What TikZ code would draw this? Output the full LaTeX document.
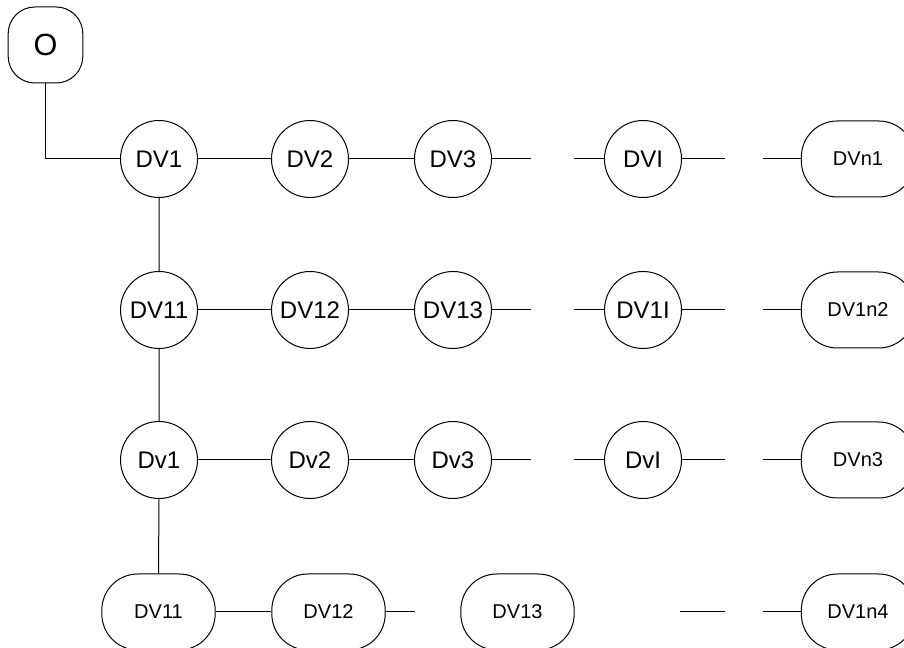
\documentclass[tikz,border=0pt]{standalone}
\usepackage{fontspec}
\setmainfont{Liberation Sans}

\tikzset{
  dvnode/.style={draw,circle,minimum size=57.75pt,inner sep=0pt,
    font=\fontsize{18}{20}\selectfont},
  dvpill/.style={draw,rounded corners=27pt,minimum width=85pt,
    minimum height=57pt,inner sep=0pt,font=\fontsize{15}{17}\selectfont},
  obox/.style={draw,rounded corners=20pt,minimum width=56pt,
    minimum height=57pt,inner sep=0pt,font=\fontsize{23}{25}\selectfont}
}

\begin{document}
\begin{tikzpicture}[x=0.75pt,y=-0.75pt,line width=0.75pt]
\clip (0,0) rectangle (904,648);

\node[obox] (o) at (45.5,45) {O};

% three rows of circles, each ending in a pill
\foreach \r/\y/\ta/\tb/\tc/\td/\te in {
    1/159/DV1/DV2/DV3/DVI/DVn1,
    2/310/DV11/DV12/DV13/DV1I/DV1n2,
    3/460/Dv1/Dv2/Dv3/DvI/DVn3}{
  \node[dvnode] (r\r a) at (159,\y) {\ta};
  \node[dvnode] (r\r b) at (310,\y) {\tb};
  \node[dvnode] (r\r c) at (453,\y) {\tc};
  \node[dvnode] (r\r d) at (643,\y) {\td};
  \node[dvpill] (r\r e) at (858,\y) {\te};
  \coordinate (r\r s1) at (531,\y);
  \coordinate (r\r s2) at (574,\y);
  \coordinate (r\r s3) at (725,\y);
  \coordinate (r\r s4) at (763,\y);
  \draw (r\r a) -- (r\r b) -- (r\r c) -- (r\r s1);
  \draw (r\r s2) -- (r\r d) -- (r\r s3);
  \draw (r\r s4) -- (r\r e);
}

% bottom row
\node[dvpill] (d1) at (158.5,612) {DV11};
\node[dvpill] (d2) at (328.5,612) {DV12};
\node[dvpill] (d3) at (517.5,612) {DV13};
\node[dvpill] (d4) at (858,612) {DV1n4};
\coordinate (t1) at (415,612);
\coordinate (t2) at (680,612);
\coordinate (t3) at (725,612);
\coordinate (t4) at (763,612);

\draw (o.south) |- (r1a.west);
\draw (r1a) -- (r2a) -- (r3a) -- (d1);
\draw (d1) -- (d2) -- (t1);
\draw (t2) -- (t3);
\draw (t4) -- (d4);
\end{tikzpicture}
\end{document}
